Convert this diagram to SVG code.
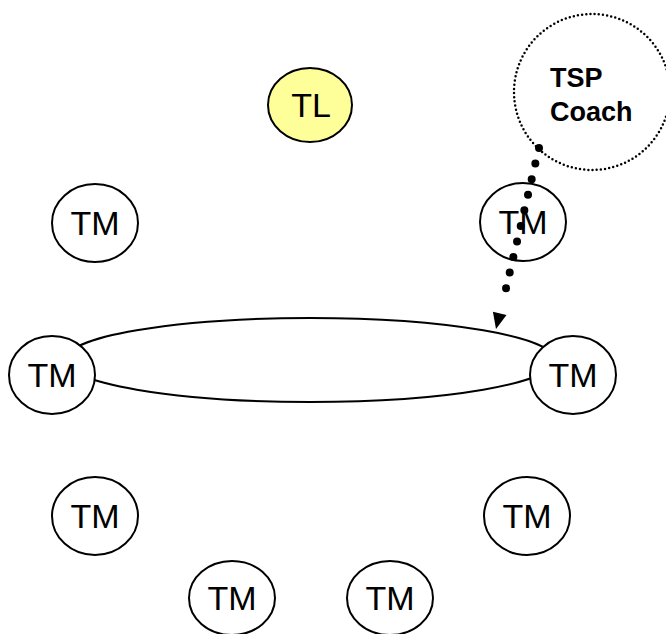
<svg xmlns="http://www.w3.org/2000/svg" width="666" height="634" viewBox="0 0 666 634">
  <style>
    .node { fill: #ffffff; stroke: #000000; stroke-width: 2; }
    .lead { fill: #ffff99; }
    .label { font-family: "Liberation Sans", Arial, sans-serif; font-size: 34px; fill: #000000; text-anchor: middle; }
    .coach { font-family: "Liberation Sans", Arial, sans-serif; font-size: 27px; font-weight: bold; fill: #000000; }
    .link { fill: none; stroke: #000000; stroke-width: 2; }
  </style>
  <rect width="666" height="634" fill="#ffffff"/>

  <!-- team loop, drawn beneath the member nodes -->
  <g id="connectors">
    <ellipse class="link" cx="310" cy="360" rx="245" ry="42"/>
  </g>

  <g id="tl">
    <ellipse class="node lead" cx="310" cy="105" rx="42" ry="37"/>
    <text class="label" x="311" y="117">TL</text>
  </g>
  <g id="tm-upper-left">
    <ellipse class="node" cx="95" cy="223" rx="43" ry="39"/>
    <text class="label" x="95" y="235">TM</text>
  </g>
  <g id="tm-upper-right">
    <ellipse class="node" cx="523" cy="222" rx="43" ry="39"/>
    <text class="label" x="523" y="234">TM</text>
  </g>
  <g id="tm-mid-left">
    <ellipse class="node" cx="52" cy="375" rx="43" ry="39"/>
    <text class="label" x="52" y="387">TM</text>
  </g>
  <g id="tm-mid-right">
    <ellipse class="node" cx="573" cy="375" rx="43" ry="39"/>
    <text class="label" x="573" y="387">TM</text>
  </g>
  <g id="tm-lower-left">
    <ellipse class="node" cx="95" cy="516" rx="43" ry="39"/>
    <text class="label" x="95" y="528">TM</text>
  </g>
  <g id="tm-lower-right">
    <ellipse class="node" cx="527" cy="516" rx="43" ry="39"/>
    <text class="label" x="527" y="528">TM</text>
  </g>
  <g id="tm-bottom-left">
    <ellipse class="node" cx="232" cy="598" rx="43" ry="37"/>
    <text class="label" x="232" y="610">TM</text>
  </g>
  <g id="tm-bottom-right">
    <ellipse class="node" cx="390" cy="598" rx="43" ry="37"/>
    <text class="label" x="390" y="610">TM</text>
  </g>

  <g id="tsp-coach">
    <circle cx="592" cy="92" r="78" fill="none" stroke="#000000" stroke-width="2.5" stroke-dasharray="0 4.2" stroke-linecap="round"/>
    <text class="coach" x="550" y="87">TSP</text>
    <text class="coach" x="550" y="121">Coach</text>
  </g>

  <!-- coaching link: dotted line onto the team loop -->
  <g id="coach-link">
    <line x1="539" y1="148" x2="502.4" y2="303.7" stroke="#000000" stroke-width="8" stroke-dasharray="0 16" stroke-linecap="round"/>
    <polygon points="496,329 506.5,315 492.9,311.8" fill="#000000"/>
  </g>
</svg>
